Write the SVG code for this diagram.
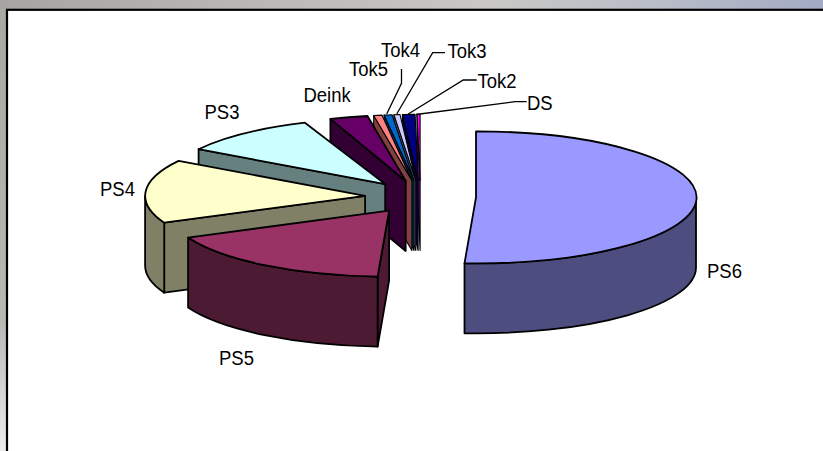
<svg xmlns="http://www.w3.org/2000/svg" width="823" height="451" viewBox="0 0 823 451">
<defs>
<linearGradient id="bgTop" x1="0" y1="0" x2="1" y2="0">
<stop offset="0" stop-color="#a6a5a2"/>
<stop offset="0.35" stop-color="#bdbbb7"/>
<stop offset="0.6" stop-color="#c9c8c6"/>
<stop offset="0.8" stop-color="#b9bdc8"/>
<stop offset="1" stop-color="#a3abc4"/>
</linearGradient>
<linearGradient id="bgLeft" x1="0" y1="0" x2="0" y2="1">
<stop offset="0" stop-color="#a9a8a5"/>
<stop offset="0.7" stop-color="#b8b7b4"/>
<stop offset="1" stop-color="#ececec"/>
</linearGradient>
<style>
.lbl{font-family:"Liberation Sans",Arial,sans-serif;font-size:18.5px;fill:#000}
.f{stroke:#000;stroke-width:1.8;stroke-linejoin:round}
.s{stroke:#000;stroke-width:1.1;stroke-linejoin:round}
.lead{fill:none;stroke:#000;stroke-width:1.3}
</style>
</defs>
<rect x="0" y="0" width="823" height="451" fill="url(#bgTop)"/>
<rect x="0" y="9" width="8" height="442" fill="url(#bgLeft)"/>
<rect x="7" y="9.8" width="820" height="445" fill="#fff" stroke="#000" stroke-width="2.2"/>

<g id="DS">
<path class="s" fill="#800080" d="M420.1,180.35 L417,114.4 L417,184.4 L420.1,250.35 Z"/>
<path class="s" fill="#FF00FF" d="M420.1,180.35 L417,114.4 A220,66 0 0 1 420.1,114.35 Z"/>
<text class="lbl" transform="translate(527,110) scale(1,1.13)">DS</text>
</g>
<g id="Tok2">
<path class="s" fill="#000040" d="M418.1,180.4 L402.4,114.5 L402.4,184.5 L418.1,250.4 Z"/>
<path class="s" fill="#000080" d="M418.1,180.4 L402.4,114.5 A220,66 0 0 1 415.1,114.4 Z"/>
<text class="lbl" transform="translate(477.5,88.3) scale(1,1.13)">Tok2</text>
</g>
<g id="Tok3">
<path class="s" fill="#666680" d="M415.8,180.4 L393.9,114.7 L393.9,184.7 L415.8,250.4 Z"/>
<path class="s" fill="#CCCCFF" d="M415.8,180.4 L393.9,114.7 A220,66 0 0 1 400,114.6 Z"/>
<text class="lbl" transform="translate(447.5,58.3) scale(1,1.13)">Tok3</text>
</g>
<g id="Tok4">
<path class="s" fill="#003366" d="M414,180.5 L384.1,115.1 L384.1,185.1 L414,250.5 Z"/>
<path class="s" fill="#0066CC" d="M414,180.5 L384.1,115.1 A220,66 0 0 1 392.1,114.8 Z"/>
<text class="lbl" transform="translate(381,56.7) scale(1,1.13)">Tok4</text>
</g>
<g id="Tok5">
<path class="s" fill="#804040" d="M411.9,180.55 L373.7,115.55 L373.7,185.55 L411.9,250.55 Z"/>
<path class="s" fill="#FF8080" d="M411.9,180.55 L373.7,115.55 A220,66 0 0 1 382.05,115.16 Z"/>
<text class="lbl" transform="translate(349,76) scale(1,1.13)">Tok5</text>
</g>
<g id="Deink">
<path class="f" fill="#330033" d="M405.7,181 L330.4,118.9 L330.4,188.9 L405.7,251 Z"/>
<path class="f" fill="#660066" d="M405.7,181 L330.4,118.9 A220,66 0 0 1 367.5,116 Z"/>
<text class="lbl" transform="translate(303.5,101.7) scale(1,1.13)">Deink</text>
</g>
<g id="PS3">
<path class="f" fill="#668080" d="M385.2,184.15 L198.6,149.2 L198.6,219.2 L385.2,254.15 Z"/>
<path class="f" fill="#CCFFFF" d="M385.2,184.15 L198.6,149.2 A220,66 0 0 1 304.9,122.7 Z"/>
<text class="lbl" transform="translate(204.5,119.3) scale(1,1.13)">PS3</text>
</g>
<g id="PS4">
<path class="f" fill="#808066" d="M365.1,195.8 L164.2,222.7 L164.2,292.7 L365.1,265.8 Z"/>
<path class="f" fill="#808066" d="M164.2,222.7 A220,66 0 0 1 145.1,195.8 L145.1,265.8 A220,66 0 0 0 164.2,292.7 Z"/>
<path class="f" fill="#FFFFCC" d="M365.1,195.8 L164.2,222.7 A220,66 0 0 1 178.6,160.9 Z"/>
<text class="lbl" transform="translate(100,196) scale(1,1.13)">PS4</text>
</g>
<g id="PS5">
<path class="f" fill="#4D1A33" d="M389.1,210.7 L377.6,276.6 L377.6,346.6 L389.1,280.7 Z"/>
<path class="f" fill="#4D1A33" d="M377.6,276.6 A220,66 0 0 1 188.1,237.6 L188.1,307.6 A220,66 0 0 0 377.6,346.6 Z"/>
<path class="f" fill="#993366" d="M389.1,210.7 L377.6,276.6 A220,66 0 0 1 188.1,237.6 Z"/>
<text class="lbl" transform="translate(219,365) scale(1,1.13)">PS5</text>
</g>
<g id="PS6">
<path class="f" fill="#4D4D80" d="M696,197.4 A220,66 0 0 1 464.5,263.3 L464.5,333.3 A220,66 0 0 0 696,267.4 Z"/>
<path class="f" fill="#9999FF" d="M476,197.4 L476,131.4 A220,66 0 1 1 464.5,263.3 Z"/>
<text class="lbl" transform="translate(707,278.3) scale(1,1.13)">PS6</text>
</g>

<g id="connectors">
<path class="lead" d="M401.5,69 L401.5,83.3 L386.7,114"/>
<path class="lead" d="M445,52.7 L432.7,52.7 L396.7,114"/>
<path class="lead" d="M476.7,80 L463.3,80 L408.3,114"/>
<path class="lead" d="M526.7,101.7 L515,101.7 L416,114.5"/>
</g>
</svg>
